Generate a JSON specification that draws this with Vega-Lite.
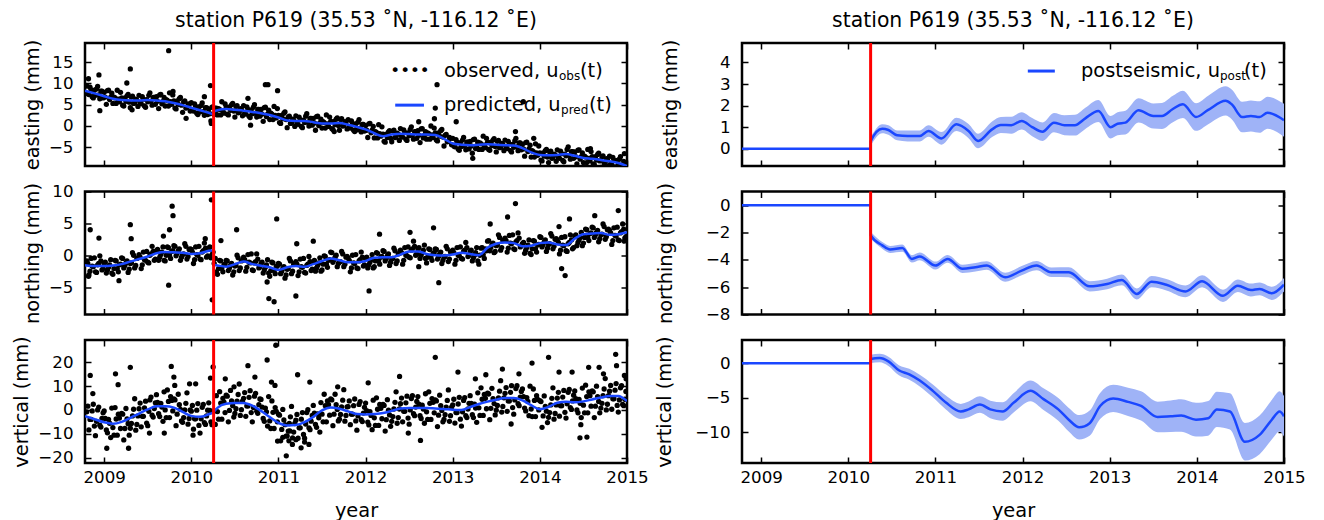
{
 "$schema": "https://vega.github.io/schema/vega-lite/v6.json",
 "background": "white",
 "padding": {"left": 10, "top": 9, "right": 0, "bottom": 0},
 "bounds": "flush",
 "columns": 2,
 "spacing": {"row": 25.5, "column": 115},
 "config": {
  "font": "DejaVu Sans",
  "view": {"stroke": "black", "strokeWidth": 2.5},
  "axis": {"grid": false, "domain": false, "ticks": true, "tickSize": -6, "tickWidth": 1.5, "tickColor": "black", "labelFont": "DejaVu Sans", "labelFontSize": 16.7, "labelColor": "black", "labelFlush": false, "titleFont": "DejaVu Sans", "titleFontSize": 19.4, "titleFontWeight": "normal", "titleColor": "black"},
  "axisX": {"labelPadding": 12, "titlePadding": 16},
  "axisY": {"labelPadding": 18, "titlePadding": 6},
  "title": {"font": "DejaVu Sans", "fontSize": 20.4, "fontWeight": "normal", "color": "black", "offset": 8, "baseline": "alphabetic", "frame": "group"}
 },
 "datasets": {
  "obs": [
   {"t":2008.8,"e":9.4,"n":-0.9,"v":-0.8},{"t":2008.825,"e":7.4,"n":-3.1,"v":-8.4},{"t":2008.85,"e":8.5,"n":-0.5,"v":-4.0},{"t":2008.875,"e":6.6,"n":-1.8,"v":2.4},
   {"t":2008.9,"e":7.2,"n":-2.6,"v":-10.8},{"t":2008.925,"e":9.3,"n":-1.5,"v":0.0},{"t":2008.95,"e":6.4,"n":-0.1,"v":-6.4},{"t":2008.975,"e":8.2,"n":-2.3,"v":-3.6},
   {"t":2009.0,"e":7.9,"n":-1.3,"v":-0.4},{"t":2009.025,"e":5.1,"n":-2.8,"v":-8.4},{"t":2009.05,"e":8.4,"n":-1.9,"v":-4.0},{"t":2009.075,"e":6.8,"n":-0.7,"v":-11.6},
   {"t":2009.1,"e":5.3,"n":-3.0,"v":-7.4},{"t":2009.125,"e":6.6,"n":-0.8,"v":1.0},{"t":2009.15,"e":8.4,"n":-2.1,"v":-10.6},{"t":2009.175,"e":5.7,"n":-1.5,"v":-3.4},
   {"t":2009.2,"e":6.6,"n":-0.4,"v":-1.4},{"t":2009.225,"e":4.7,"n":-2.0,"v":-12.6},{"t":2009.25,"e":5.8,"n":-1.2,"v":0.6},{"t":2009.275,"e":7.4,"n":-2.7,"v":-5.8},
   {"t":2009.3,"e":4.3,"n":-1.3,"v":-7.7},{"t":2009.325,"e":7.0,"n":0.4,"v":-2.5},{"t":2009.35,"e":5.4,"n":-2.0,"v":4.7},{"t":2009.375,"e":6.1,"n":-0.5,"v":-6.1},
   {"t":2009.4,"e":7.2,"n":0.1,"v":0.5},{"t":2009.425,"e":5.2,"n":-2.1,"v":-7.1},{"t":2009.45,"e":6.3,"n":0.5,"v":-2.7},{"t":2009.475,"e":4.4,"n":-0.8,"v":3.7},
   {"t":2009.5,"e":5.7,"n":-1.1,"v":-6.6},{"t":2009.525,"e":7.8,"n":0.0,"v":4.2},{"t":2009.55,"e":4.9,"n":1.4,"v":-2.2},{"t":2009.575,"e":6.7,"n":-0.8,"v":0.6},
   {"t":2009.6,"e":6.9,"n":0.7,"v":6.4},{"t":2009.625,"e":4.1,"n":-0.8,"v":-1.6},{"t":2009.65,"e":7.4,"n":0.1,"v":2.8},{"t":2009.675,"e":5.8,"n":1.3,"v":-4.8},
   {"t":2009.7,"e":4.7,"n":-0.9,"v":0.0},{"t":2009.725,"e":6.0,"n":1.3,"v":8.4},{"t":2009.75,"e":7.8,"n":0.0,"v":-3.2},{"t":2009.775,"e":5.1,"n":0.6,"v":4.0},
   {"t":2009.8,"e":5.9,"n":1.5,"v":4.6},{"t":2009.825,"e":4.0,"n":-0.1,"v":-6.6},{"t":2009.85,"e":5.1,"n":0.7,"v":6.6},{"t":2009.875,"e":6.7,"n":-0.8,"v":0.2},
   {"t":2009.9,"e":3.2,"n":0.1,"v":-5.2},{"t":2009.925,"e":5.9,"n":1.8,"v":0.0},{"t":2009.95,"e":4.3,"n":-0.6,"v":7.2},{"t":2009.975,"e":5.0,"n":0.9,"v":-3.6},
   {"t":2010.0,"e":5.5,"n":0.9,"v":-0.5},{"t":2010.025,"e":3.5,"n":-1.3,"v":-8.1},{"t":2010.05,"e":4.6,"n":1.3,"v":-3.7},{"t":2010.075,"e":2.7,"n":0.0,"v":2.7},
   {"t":2010.1,"e":3.3,"n":-0.6,"v":-9.7},{"t":2010.125,"e":5.4,"n":0.5,"v":1.1},{"t":2010.15,"e":2.5,"n":1.9,"v":-5.3},{"t":2010.175,"e":4.3,"n":-0.3,"v":-2.5},
   {"t":2010.2,"e":4.0,"n":1.1,"v":3.0},{"t":2010.225,"e":1.2,"n":-0.4,"v":-5.0},{"t":2010.25,"e":4.5,"n":0.5,"v":-0.6},{"t":2010.275,"e":3.4,"n":-0.5,"v":-6.1},
   {"t":2010.3,"e":2.6,"n":-3.0,"v":-0.7},{"t":2010.325,"e":3.9,"n":-0.8,"v":7.7},{"t":2010.35,"e":5.7,"n":-2.1,"v":-3.9},{"t":2010.375,"e":3.0,"n":-1.5,"v":3.3},
   {"t":2010.4,"e":4.5,"n":-0.8,"v":6.2},{"t":2010.425,"e":2.6,"n":-2.4,"v":-5.0},{"t":2010.45,"e":3.7,"n":-1.6,"v":8.2},{"t":2010.475,"e":5.3,"n":-3.1,"v":1.8},
   {"t":2010.5,"e":2.1,"n":-1.7,"v":-1.5},{"t":2010.525,"e":4.8,"n":0.0,"v":3.7},{"t":2010.55,"e":3.2,"n":-2.4,"v":10.9},{"t":2010.575,"e":3.9,"n":-0.9,"v":0.1},
   {"t":2010.6,"e":4.8,"n":-0.3,"v":4.9},{"t":2010.625,"e":2.8,"n":-2.5,"v":-2.7},{"t":2010.65,"e":3.9,"n":0.1,"v":1.7},{"t":2010.675,"e":2.0,"n":-1.2,"v":8.1},
   {"t":2010.7,"e":2.9,"n":-2.3,"v":-5.0},{"t":2010.725,"e":5.0,"n":-1.2,"v":5.8},{"t":2010.75,"e":2.1,"n":0.2,"v":-0.6},{"t":2010.775,"e":3.9,"n":-2.0,"v":2.2},
   {"t":2010.8,"e":3.9,"n":-1.3,"v":4.4},{"t":2010.825,"e":1.1,"n":-2.8,"v":-3.6},{"t":2010.85,"e":4.4,"n":-1.9,"v":0.8},{"t":2010.875,"e":2.8,"n":-0.7,"v":-6.8},
   {"t":2010.9,"e":1.5,"n":-3.3,"v":-4.6},{"t":2010.925,"e":2.8,"n":-1.1,"v":3.8},{"t":2010.95,"e":4.6,"n":-2.4,"v":-7.8},{"t":2010.975,"e":1.9,"n":-1.8,"v":-0.6},
   {"t":2011.0,"e":2.5,"n":-1.3,"v":-1.8},{"t":2011.025,"e":0.6,"n":-2.9,"v":-13.0},{"t":2011.05,"e":1.7,"n":-2.1,"v":0.2},{"t":2011.075,"e":3.3,"n":-3.6,"v":-6.2},
   {"t":2011.1,"e":-0.4,"n":-2.2,"v":-10.9},{"t":2011.125,"e":2.3,"n":-0.5,"v":-5.7},{"t":2011.15,"e":0.7,"n":-2.9,"v":1.5},{"t":2011.175,"e":1.4,"n":-1.4,"v":-9.3},
   {"t":2011.2,"e":2.4,"n":-1.0,"v":-4.3},{"t":2011.225,"e":0.4,"n":-3.2,"v":-11.9},{"t":2011.25,"e":1.5,"n":-0.6,"v":-7.5},{"t":2011.275,"e":-0.4,"n":-1.9,"v":-1.1},
   {"t":2011.3,"e":0.8,"n":-2.7,"v":-11.9},{"t":2011.325,"e":2.9,"n":-1.6,"v":-1.1},{"t":2011.35,"e":0.0,"n":-0.2,"v":-7.5},{"t":2011.375,"e":1.8,"n":-2.4,"v":-4.7},
   {"t":2011.4,"e":1.8,"n":-1.0,"v":1.9},{"t":2011.425,"e":-1.0,"n":-2.5,"v":-6.1},{"t":2011.45,"e":2.3,"n":-1.6,"v":-1.7},{"t":2011.475,"e":0.7,"n":-0.4,"v":-9.3},
   {"t":2011.5,"e":-0.5,"n":-2.3,"v":-1.8},{"t":2011.525,"e":0.8,"n":-0.1,"v":6.6},{"t":2011.55,"e":2.6,"n":-1.4,"v":-5.0},{"t":2011.575,"e":-0.1,"n":-0.8,"v":2.2},
   {"t":2011.6,"e":1.1,"n":0.5,"v":4.6},{"t":2011.625,"e":-0.8,"n":-1.1,"v":-6.6},{"t":2011.65,"e":0.3,"n":-0.3,"v":6.6},{"t":2011.675,"e":1.9,"n":-1.8,"v":0.2},
   {"t":2011.7,"e":-1.0,"n":-1.1,"v":-3.9},{"t":2011.725,"e":1.7,"n":0.6,"v":1.3},{"t":2011.75,"e":0.1,"n":-1.8,"v":8.5},{"t":2011.775,"e":0.8,"n":-0.3,"v":-2.3},
   {"t":2011.8,"e":1.5,"n":-0.4,"v":1.4},{"t":2011.825,"e":-0.5,"n":-2.6,"v":-6.2},{"t":2011.85,"e":0.6,"n":0.0,"v":-1.8},{"t":2011.875,"e":-1.3,"n":-1.3,"v":4.6},
   {"t":2011.9,"e":-0.6,"n":-2.0,"v":-8.5},{"t":2011.925,"e":1.5,"n":-0.9,"v":2.3},{"t":2011.95,"e":-1.4,"n":0.5,"v":-4.1},{"t":2011.975,"e":0.4,"n":-1.7,"v":-1.3},
   {"t":2012.0,"e":0.1,"n":-0.5,"v":2.9},{"t":2012.025,"e":-2.7,"n":-2.0,"v":-5.1},{"t":2012.05,"e":0.6,"n":-1.1,"v":-0.7},{"t":2012.075,"e":-1.0,"n":0.1,"v":-8.3},
   {"t":2012.1,"e":-2.8,"n":-1.8,"v":-3.3},{"t":2012.125,"e":-1.5,"n":0.4,"v":5.1},{"t":2012.15,"e":0.3,"n":-0.9,"v":-6.5},{"t":2012.175,"e":-2.4,"n":-0.3,"v":0.7},
   {"t":2012.2,"e":-1.9,"n":0.7,"v":2.3},{"t":2012.225,"e":-3.8,"n":-0.9,"v":-8.9},{"t":2012.25,"e":-2.7,"n":-0.1,"v":4.3},{"t":2012.275,"e":-1.1,"n":-1.6,"v":-2.1},
   {"t":2012.3,"e":-3.7,"n":-0.6,"v":-4.8},{"t":2012.325,"e":-1.0,"n":1.1,"v":0.4},{"t":2012.35,"e":-2.6,"n":-1.3,"v":7.6},{"t":2012.375,"e":-1.9,"n":0.2,"v":-3.2},
   {"t":2012.4,"e":-0.6,"n":0.8,"v":2.6},{"t":2012.425,"e":-2.6,"n":-1.4,"v":-5.0},{"t":2012.45,"e":-1.5,"n":1.2,"v":-0.6},{"t":2012.475,"e":-3.4,"n":-0.1,"v":5.8},
   {"t":2012.5,"e":-2.3,"n":-0.3,"v":-6.0},{"t":2012.525,"e":-0.2,"n":0.8,"v":4.8},{"t":2012.55,"e":-3.1,"n":2.2,"v":-1.6},{"t":2012.575,"e":-1.3,"n":0.0,"v":1.2},
   {"t":2012.6,"e":-1.1,"n":1.0,"v":5.6},{"t":2012.625,"e":-3.9,"n":-0.5,"v":-2.4},{"t":2012.65,"e":-0.6,"n":0.4,"v":2.0},{"t":2012.675,"e":-2.2,"n":1.6,"v":-5.6},
   {"t":2012.7,"e":-3.1,"n":-1.2,"v":-0.8},{"t":2012.725,"e":-1.8,"n":1.0,"v":7.6},{"t":2012.75,"e":0.0,"n":-0.3,"v":-4.0},{"t":2012.775,"e":-2.7,"n":0.3,"v":3.2},
   {"t":2012.8,"e":-1.6,"n":1.0,"v":4.2},{"t":2012.825,"e":-3.5,"n":-0.6,"v":-7.0},{"t":2012.85,"e":-2.4,"n":0.2,"v":6.2},{"t":2012.875,"e":-0.8,"n":-1.3,"v":-0.2},
   {"t":2012.9,"e":-4.7,"n":-0.3,"v":-4.0},{"t":2012.925,"e":-2.0,"n":1.4,"v":1.2},{"t":2012.95,"e":-3.6,"n":-1.0,"v":8.4},{"t":2012.975,"e":-2.9,"n":0.5,"v":-2.4},
   {"t":2013.0,"e":-2.9,"n":0.8,"v":2.1},{"t":2013.025,"e":-4.9,"n":-1.4,"v":-5.5},{"t":2013.05,"e":-3.8,"n":1.2,"v":-1.1},{"t":2013.075,"e":-5.7,"n":-0.1,"v":5.3},
   {"t":2013.1,"e":-4.8,"n":-0.5,"v":-6.8},{"t":2013.125,"e":-2.7,"n":0.6,"v":4.0},{"t":2013.15,"e":-5.6,"n":2.0,"v":-2.4},{"t":2013.175,"e":-3.8,"n":-0.2,"v":0.4},
   {"t":2013.2,"e":-3.6,"n":0.6,"v":6.0},{"t":2013.225,"e":-6.4,"n":-0.9,"v":-2.0},{"t":2013.25,"e":-3.1,"n":0.0,"v":2.4},{"t":2013.275,"e":-4.7,"n":1.2,"v":-5.2},
   {"t":2013.3,"e":-5.5,"n":-1.4,"v":0.9},{"t":2013.325,"e":-4.2,"n":1.1,"v":9.3},{"t":2013.35,"e":-2.4,"n":0.1,"v":-2.3},{"t":2013.375,"e":-5.1,"n":1.0,"v":4.9},
   {"t":2013.4,"e":-3.8,"n":2.2,"v":7.1},{"t":2013.425,"e":-5.7,"n":0.7,"v":-4.1},{"t":2013.45,"e":-4.6,"n":1.7,"v":9.1},{"t":2013.475,"e":-3.0,"n":0.4,"v":2.7},
   {"t":2013.5,"e":-6.1,"n":1.5,"v":-0.1},{"t":2013.525,"e":-3.4,"n":3.2,"v":5.1},{"t":2013.55,"e":-5.0,"n":0.8,"v":12.3},{"t":2013.575,"e":-4.3,"n":2.3,"v":1.5},
   {"t":2013.6,"e":-3.3,"n":2.7,"v":7.0},{"t":2013.625,"e":-5.3,"n":0.5,"v":-0.6},{"t":2013.65,"e":-4.2,"n":3.1,"v":3.8},{"t":2013.675,"e":-6.1,"n":1.8,"v":10.2},
   {"t":2013.7,"e":-5.0,"n":1.0,"v":-1.8},{"t":2013.725,"e":-2.9,"n":2.1,"v":9.0},{"t":2013.75,"e":-5.8,"n":3.5,"v":2.6},{"t":2013.775,"e":-4.0,"n":1.3,"v":5.4},
   {"t":2013.8,"e":-4.3,"n":1.8,"v":8.8},{"t":2013.825,"e":-7.1,"n":0.3,"v":0.8},{"t":2013.85,"e":-3.8,"n":1.2,"v":5.2},{"t":2013.875,"e":-5.4,"n":2.4,"v":-2.4},
   {"t":2013.9,"e":-7.3,"n":0.1,"v":0.4},{"t":2013.925,"e":-6.0,"n":2.3,"v":8.8},{"t":2013.95,"e":-4.2,"n":1.0,"v":-2.8},{"t":2013.975,"e":-6.9,"n":1.6,"v":4.4},
   {"t":2014.0,"e":-6.3,"n":2.9,"v":3.9},{"t":2014.025,"e":-8.2,"n":1.3,"v":-7.3},{"t":2014.05,"e":-7.1,"n":2.1,"v":5.9},{"t":2014.075,"e":-5.5,"n":0.6,"v":-0.5},
   {"t":2014.1,"e":-8.6,"n":1.7,"v":-3.1},{"t":2014.125,"e":-5.9,"n":3.4,"v":2.1},{"t":2014.15,"e":-7.5,"n":1.0,"v":9.3},{"t":2014.175,"e":-6.8,"n":2.5,"v":-1.5},
   {"t":2014.2,"e":-5.6,"n":2.4,"v":5.0},{"t":2014.225,"e":-7.6,"n":0.2,"v":-2.6},{"t":2014.25,"e":-6.5,"n":2.8,"v":1.8},{"t":2014.275,"e":-8.4,"n":1.5,"v":8.2},
   {"t":2014.3,"e":-7.0,"n":0.7,"v":-3.4},{"t":2014.325,"e":-4.9,"n":1.8,"v":7.4},{"t":2014.35,"e":-7.8,"n":3.2,"v":1.0},{"t":2014.375,"e":-6.0,"n":1.0,"v":3.8},
   {"t":2014.4,"e":-6.1,"n":3.0,"v":8.0},{"t":2014.425,"e":-8.9,"n":1.5,"v":0.0},{"t":2014.45,"e":-5.6,"n":2.4,"v":4.4},{"t":2014.475,"e":-7.2,"n":3.6,"v":-3.2},
   {"t":2014.5,"e":-8.6,"n":1.9,"v":2.0},{"t":2014.525,"e":-7.3,"n":4.1,"v":10.4},{"t":2014.55,"e":-5.5,"n":2.8,"v":-1.2},{"t":2014.575,"e":-8.2,"n":3.4,"v":6.0},
   {"t":2014.6,"e":-7.2,"n":4.4,"v":8.0},{"t":2014.625,"e":-9.1,"n":2.8,"v":-3.2},{"t":2014.65,"e":-8.0,"n":3.6,"v":10.0},{"t":2014.675,"e":-6.4,"n":2.1,"v":3.6},
   {"t":2014.7,"e":-9.7,"n":3.2,"v":0.8},{"t":2014.725,"e":-7.0,"n":4.9,"v":6.0},{"t":2014.75,"e":-8.6,"n":2.5,"v":13.2},{"t":2014.775,"e":-7.9,"n":4.0,"v":2.4},
   {"t":2014.8,"e":-7.1,"n":3.9,"v":7.9},{"t":2014.825,"e":-9.1,"n":1.7,"v":0.3},{"t":2014.85,"e":-8.0,"n":4.3,"v":4.7},{"t":2014.875,"e":-9.9,"n":3.0,"v":11.1},
   {"t":2014.9,"e":-9.1,"n":2.4,"v":-0.9},{"t":2014.925,"e":-7.2,"n":3.5,"v":9.3},{"t":2014.95,"e":-10.3,"n":4.9,"v":2.3},{"t":2014.975,"e":-8.7,"n":2.7,"v":4.5},
   {"t":2008.8125,"e":7.6,"n":-1.3,"v":1.6},{"t":2008.8375,"e":9.1,"n":-2.5,"v":-4.0},{"t":2008.8625,"e":6.9,"n":-1.7,"v":-0.4},{"t":2008.8875,"e":8.4,"n":-0.4,"v":-6.8},
   {"t":2008.9125,"e":8.7,"n":-2.7,"v":-4.8},{"t":2008.9375,"e":7.3,"n":-1.3,"v":1.2},{"t":2008.9625,"e":8.2,"n":-0.9,"v":-7.2},{"t":2008.9875,"e":6.6,"n":-2.1,"v":-1.2},
   {"t":2009.0125,"e":6.8,"n":-1.1,"v":-3.6},{"t":2009.0375,"e":8.3,"n":-2.3,"v":-9.6},{"t":2009.0625,"e":6.2,"n":-1.5,"v":-5.6},{"t":2009.0875,"e":7.7,"n":-2.8,"v":0.8},
   {"t":2009.1125,"e":6.8,"n":-2.1,"v":-10.6},{"t":2009.1375,"e":5.3,"n":-0.9,"v":-3.8},{"t":2009.1625,"e":6.3,"n":-2.6,"v":-1.8},{"t":2009.1875,"e":7.9,"n":-1.4,"v":-7.8},
   {"t":2009.2125,"e":4.9,"n":-0.5,"v":-1.8},{"t":2009.2375,"e":6.6,"n":-1.6,"v":-7.8},{"t":2009.2625,"e":7.1,"n":-0.9,"v":-3.8},{"t":2009.2875,"e":5.6,"n":-2.2,"v":-10.6},
   {"t":2009.3125,"e":6.8,"n":-1.2,"v":-5.7},{"t":2009.3375,"e":5.3,"n":0.0,"v":0.3},{"t":2009.3625,"e":6.3,"n":-1.6,"v":-8.5},{"t":2009.3875,"e":4.6,"n":-0.4,"v":-2.5},
   {"t":2009.4125,"e":5.4,"n":-0.3,"v":2.9},{"t":2009.4375,"e":6.9,"n":-1.5,"v":-2.7},{"t":2009.4625,"e":4.7,"n":-0.7,"v":0.9},{"t":2009.4875,"e":6.2,"n":0.6,"v":-5.5},
   {"t":2009.5125,"e":7.2,"n":-1.2,"v":-0.6},{"t":2009.5375,"e":5.8,"n":0.2,"v":5.4},{"t":2009.5625,"e":6.7,"n":0.6,"v":-3.0},{"t":2009.5875,"e":5.1,"n":-0.6,"v":3.0},
   {"t":2009.6125,"e":5.8,"n":0.9,"v":3.2},{"t":2009.6375,"e":7.3,"n":-0.3,"v":-2.8},{"t":2009.6625,"e":5.2,"n":0.5,"v":1.2},{"t":2009.6875,"e":6.7,"n":-0.8,"v":7.6},
   {"t":2009.7125,"e":6.2,"n":0.0,"v":-3.2},{"t":2009.7375,"e":4.7,"n":1.2,"v":3.6},{"t":2009.7625,"e":5.7,"n":-0.5,"v":5.6},{"t":2009.7875,"e":7.3,"n":0.7,"v":-0.4},
   {"t":2009.8125,"e":4.2,"n":1.4,"v":4.2},{"t":2009.8375,"e":5.9,"n":0.3,"v":-1.8},{"t":2009.8625,"e":6.4,"n":1.0,"v":2.2},{"t":2009.8875,"e":4.9,"n":-0.3,"v":-4.6},
   {"t":2009.9125,"e":5.7,"n":0.2,"v":-3.2},{"t":2009.9375,"e":4.2,"n":1.4,"v":2.8},{"t":2009.9625,"e":5.2,"n":-0.2,"v":-6.0},{"t":2009.9875,"e":3.5,"n":1.0,"v":0.0},
   {"t":2010.0125,"e":3.7,"n":0.5,"v":1.9},{"t":2010.0375,"e":5.2,"n":-0.7,"v":-3.7},{"t":2010.0625,"e":3.0,"n":0.1,"v":-0.1},{"t":2010.0875,"e":4.5,"n":1.4,"v":-6.5},
   {"t":2010.1125,"e":4.8,"n":-0.7,"v":-3.7},{"t":2010.1375,"e":3.4,"n":0.7,"v":2.3},{"t":2010.1625,"e":4.3,"n":1.1,"v":-6.1},{"t":2010.1875,"e":2.7,"n":-0.1,"v":-0.1},
   {"t":2010.2125,"e":2.9,"n":1.3,"v":-0.2},{"t":2010.2375,"e":4.4,"n":0.1,"v":-6.2},{"t":2010.2625,"e":2.7,"n":-1.3,"v":-0.4},{"t":2010.2875,"e":4.2,"n":-2.6,"v":6.0},
   {"t":2010.3125,"e":4.1,"n":-2.1,"v":-3.9},{"t":2010.3375,"e":2.6,"n":-0.9,"v":2.9},{"t":2010.3625,"e":3.6,"n":-2.6,"v":4.9},{"t":2010.3875,"e":5.2,"n":-1.4,"v":-1.1},
   {"t":2010.4125,"e":2.8,"n":-0.9,"v":5.8},{"t":2010.4375,"e":4.5,"n":-2.0,"v":-0.2},{"t":2010.4625,"e":5.0,"n":-1.3,"v":3.8},{"t":2010.4875,"e":3.5,"n":-2.6,"v":-3.0},
   {"t":2010.5125,"e":4.6,"n":-1.6,"v":0.5},{"t":2010.5375,"e":3.1,"n":-0.4,"v":6.5},{"t":2010.5625,"e":4.1,"n":-2.0,"v":-2.3},{"t":2010.5875,"e":2.4,"n":-0.8,"v":3.7},
   {"t":2010.6125,"e":3.0,"n":-0.7,"v":7.3},{"t":2010.6375,"e":4.5,"n":-1.9,"v":1.7},{"t":2010.6625,"e":2.3,"n":-1.1,"v":5.3},{"t":2010.6875,"e":3.8,"n":0.2,"v":-1.1},
   {"t":2010.7125,"e":4.4,"n":-2.4,"v":1.0},{"t":2010.7375,"e":3.0,"n":-1.0,"v":7.0},{"t":2010.7625,"e":3.9,"n":-0.6,"v":-1.4},{"t":2010.7875,"e":2.3,"n":-1.8,"v":4.6},
   {"t":2010.8125,"e":2.8,"n":-1.1,"v":1.2},{"t":2010.8375,"e":4.3,"n":-2.3,"v":-4.8},{"t":2010.8625,"e":2.2,"n":-1.5,"v":-0.8},{"t":2010.8875,"e":3.7,"n":-2.8,"v":5.6},
   {"t":2010.9125,"e":3.0,"n":-2.4,"v":-7.8},{"t":2010.9375,"e":1.5,"n":-1.2,"v":-1.0},{"t":2010.9625,"e":2.5,"n":-2.9,"v":1.0},{"t":2010.9875,"e":4.1,"n":-1.7,"v":-5.0},
   {"t":2011.0125,"e":0.8,"n":-1.4,"v":-2.2},{"t":2011.0375,"e":2.5,"n":-2.5,"v":-8.2},{"t":2011.0625,"e":3.0,"n":-1.8,"v":-4.2},{"t":2011.0875,"e":1.5,"n":-3.1,"v":-11.0},
   {"t":2011.1125,"e":2.1,"n":-2.1,"v":-8.9},{"t":2011.1375,"e":0.6,"n":-0.9,"v":-2.9},{"t":2011.1625,"e":1.6,"n":-2.5,"v":-11.7},{"t":2011.1875,"e":-0.1,"n":-1.3,"v":-5.7},
   {"t":2011.2125,"e":0.6,"n":-1.4,"v":-1.9},{"t":2011.2375,"e":2.1,"n":-2.6,"v":-7.5},{"t":2011.2625,"e":-0.1,"n":-1.8,"v":-3.9},{"t":2011.2875,"e":1.4,"n":-0.5,"v":-10.3},
   {"t":2011.3125,"e":2.3,"n":-2.8,"v":-5.9},{"t":2011.3375,"e":0.9,"n":-1.4,"v":0.1},{"t":2011.3625,"e":1.8,"n":-1.0,"v":-8.3},{"t":2011.3875,"e":0.2,"n":-2.2,"v":-2.3},
   {"t":2011.4125,"e":0.7,"n":-0.8,"v":-1.3},{"t":2011.4375,"e":2.2,"n":-2.0,"v":-7.3},{"t":2011.4625,"e":0.1,"n":-1.2,"v":-3.3},{"t":2011.4875,"e":1.6,"n":-2.5,"v":3.1},
   {"t":2011.5125,"e":1.0,"n":-1.4,"v":-5.0},{"t":2011.5375,"e":-0.5,"n":-0.2,"v":1.8},{"t":2011.5625,"e":0.5,"n":-1.9,"v":3.8},{"t":2011.5875,"e":2.1,"n":-0.7,"v":-2.2},
   {"t":2011.6125,"e":-0.6,"n":0.4,"v":4.2},{"t":2011.6375,"e":1.1,"n":-0.7,"v":-1.8},{"t":2011.6625,"e":1.6,"n":0.0,"v":2.2},{"t":2011.6875,"e":0.1,"n":-1.3,"v":-4.6},
   {"t":2011.7125,"e":1.5,"n":-1.0,"v":-1.9},{"t":2011.7375,"e":0.0,"n":0.2,"v":4.1},{"t":2011.7625,"e":1.0,"n":-1.4,"v":-4.7},{"t":2011.7875,"e":-0.7,"n":-0.2,"v":1.3},
   {"t":2011.8125,"e":-0.3,"n":-0.8,"v":3.8},{"t":2011.8375,"e":1.2,"n":-2.0,"v":-1.8},{"t":2011.8625,"e":-1.0,"n":-1.2,"v":1.8},{"t":2011.8875,"e":0.5,"n":0.1,"v":-4.6},
   {"t":2011.9125,"e":0.9,"n":-2.1,"v":-2.5},{"t":2011.9375,"e":-0.5,"n":-0.7,"v":3.5},{"t":2011.9625,"e":0.4,"n":-0.3,"v":-4.9},{"t":2011.9875,"e":-1.2,"n":-1.5,"v":1.1},
   {"t":2012.0125,"e":-1.0,"n":-0.3,"v":-0.3},{"t":2012.0375,"e":0.5,"n":-1.5,"v":-6.3},{"t":2012.0625,"e":-1.6,"n":-0.7,"v":-2.3},{"t":2012.0875,"e":-0.1,"n":-2.0,"v":4.1},
   {"t":2012.1125,"e":-1.3,"n":-0.9,"v":-6.5},{"t":2012.1375,"e":-2.8,"n":0.3,"v":0.3},{"t":2012.1625,"e":-1.8,"n":-1.4,"v":2.3},{"t":2012.1875,"e":-0.2,"n":-0.2,"v":-3.7},
   {"t":2012.2125,"e":-3.6,"n":0.6,"v":1.9},{"t":2012.2375,"e":-1.9,"n":-0.5,"v":-4.1},{"t":2012.2625,"e":-1.4,"n":0.2,"v":-0.1},{"t":2012.2875,"e":-2.9,"n":-1.1,"v":-6.9},
   {"t":2012.3125,"e":-1.2,"n":-0.5,"v":-2.8},{"t":2012.3375,"e":-2.7,"n":0.7,"v":3.2},{"t":2012.3625,"e":-1.7,"n":-0.9,"v":-5.6},{"t":2012.3875,"e":-3.4,"n":0.3,"v":0.4},
   {"t":2012.4125,"e":-2.4,"n":0.4,"v":5.0},{"t":2012.4375,"e":-0.9,"n":-0.8,"v":-0.6},{"t":2012.4625,"e":-3.1,"n":0.0,"v":3.0},{"t":2012.4875,"e":-1.6,"n":1.3,"v":-3.4},
   {"t":2012.5125,"e":-0.8,"n":-0.4,"v":0.0},{"t":2012.5375,"e":-2.2,"n":1.0,"v":6.0},{"t":2012.5625,"e":-1.3,"n":1.4,"v":-2.4},{"t":2012.5875,"e":-2.9,"n":0.2,"v":3.6},
   {"t":2012.6125,"e":-2.2,"n":1.2,"v":2.4},{"t":2012.6375,"e":-0.7,"n":0.0,"v":-3.6},{"t":2012.6625,"e":-2.8,"n":0.8,"v":0.4},{"t":2012.6875,"e":-1.3,"n":-0.5,"v":6.8},
   {"t":2012.7125,"e":-1.6,"n":-0.3,"v":-4.0},{"t":2012.7375,"e":-3.1,"n":0.9,"v":2.8},{"t":2012.7625,"e":-2.1,"n":-0.8,"v":4.8},{"t":2012.7875,"e":-0.5,"n":0.4,"v":-1.2},
   {"t":2012.8125,"e":-3.3,"n":0.9,"v":3.8},{"t":2012.8375,"e":-1.6,"n":-0.2,"v":-2.2},{"t":2012.8625,"e":-1.1,"n":0.5,"v":1.8},{"t":2012.8875,"e":-2.6,"n":-0.8,"v":-5.0},
   {"t":2012.9125,"e":-2.2,"n":-0.2,"v":-2.0},{"t":2012.9375,"e":-3.7,"n":1.0,"v":4.0},{"t":2012.9625,"e":-2.7,"n":-0.6,"v":-4.8},{"t":2012.9875,"e":-4.4,"n":0.6,"v":1.2},
   {"t":2013.0125,"e":-4.7,"n":0.4,"v":4.5},{"t":2013.0375,"e":-3.2,"n":-0.8,"v":-1.1},{"t":2013.0625,"e":-5.4,"n":0.0,"v":2.5},{"t":2013.0875,"e":-3.9,"n":1.3,"v":-3.9},
   {"t":2013.1125,"e":-3.3,"n":-0.6,"v":-0.8},{"t":2013.1375,"e":-4.7,"n":0.8,"v":5.2},{"t":2013.1625,"e":-3.8,"n":1.2,"v":-3.2},{"t":2013.1875,"e":-5.4,"n":0.0,"v":2.8},
   {"t":2013.2125,"e":-4.7,"n":0.8,"v":2.8},{"t":2013.2375,"e":-3.2,"n":-0.4,"v":-3.2},{"t":2013.2625,"e":-5.3,"n":0.4,"v":0.8},{"t":2013.2875,"e":-3.8,"n":-0.9,"v":7.2},
   {"t":2013.3125,"e":-4.0,"n":0.0,"v":-2.3},{"t":2013.3375,"e":-5.5,"n":1.2,"v":4.5},{"t":2013.3625,"e":-4.5,"n":-0.5,"v":6.5},{"t":2013.3875,"e":-2.9,"n":0.7,"v":0.5},
   {"t":2013.4125,"e":-5.5,"n":2.3,"v":6.7},{"t":2013.4375,"e":-3.8,"n":1.2,"v":0.7},{"t":2013.4625,"e":-3.3,"n":1.9,"v":4.7},{"t":2013.4875,"e":-4.8,"n":0.6,"v":-2.1},
   {"t":2013.5125,"e":-3.6,"n":1.6,"v":1.9},{"t":2013.5375,"e":-5.1,"n":2.8,"v":7.9},{"t":2013.5625,"e":-4.1,"n":1.2,"v":-0.9},{"t":2013.5875,"e":-5.8,"n":2.4,"v":5.1},
   {"t":2013.6125,"e":-5.1,"n":2.3,"v":9.4},{"t":2013.6375,"e":-3.6,"n":1.1,"v":3.8},{"t":2013.6625,"e":-5.8,"n":1.9,"v":7.4},{"t":2013.6875,"e":-4.3,"n":3.2,"v":1.0},
   {"t":2013.7125,"e":-3.5,"n":0.9,"v":4.2},{"t":2013.7375,"e":-4.9,"n":2.3,"v":10.2},{"t":2013.7625,"e":-4.0,"n":2.7,"v":1.8},{"t":2013.7875,"e":-5.6,"n":1.5,"v":7.8},
   {"t":2013.8125,"e":-5.4,"n":2.0,"v":5.6},{"t":2013.8375,"e":-3.9,"n":0.8,"v":-0.4},{"t":2013.8625,"e":-6.0,"n":1.6,"v":3.6},{"t":2013.8875,"e":-4.5,"n":0.3,"v":10.0},
   {"t":2013.9125,"e":-5.8,"n":1.0,"v":-2.8},{"t":2013.9375,"e":-7.3,"n":2.2,"v":4.0},{"t":2013.9625,"e":-6.3,"n":0.5,"v":6.0},{"t":2013.9875,"e":-4.7,"n":1.7,"v":0.0},
   {"t":2014.0125,"e":-8.0,"n":2.8,"v":3.5},{"t":2014.0375,"e":-6.3,"n":1.7,"v":-2.5},{"t":2014.0625,"e":-5.8,"n":2.4,"v":1.5},{"t":2014.0875,"e":-7.3,"n":1.1,"v":-5.3},
   {"t":2014.1125,"e":-6.1,"n":1.8,"v":-1.1},{"t":2014.1375,"e":-7.6,"n":3.0,"v":4.9},{"t":2014.1625,"e":-6.6,"n":1.4,"v":-3.9},{"t":2014.1875,"e":-8.3,"n":2.6,"v":2.1},
   {"t":2014.2125,"e":-7.4,"n":2.0,"v":7.4},{"t":2014.2375,"e":-5.9,"n":0.8,"v":1.8},{"t":2014.2625,"e":-8.1,"n":1.6,"v":5.4},{"t":2014.2875,"e":-6.6,"n":2.9,"v":-1.0},
   {"t":2014.3125,"e":-5.5,"n":0.6,"v":2.6},{"t":2014.3375,"e":-6.9,"n":2.0,"v":8.6},{"t":2014.3625,"e":-6.0,"n":2.4,"v":0.2},{"t":2014.3875,"e":-7.6,"n":1.2,"v":6.2},
   {"t":2014.4125,"e":-7.2,"n":3.2,"v":4.8},{"t":2014.4375,"e":-5.7,"n":2.0,"v":-1.2},{"t":2014.4625,"e":-7.8,"n":2.8,"v":2.8},{"t":2014.4875,"e":-6.3,"n":1.5,"v":9.2},
   {"t":2014.5125,"e":-7.1,"n":2.8,"v":-1.2},{"t":2014.5375,"e":-8.6,"n":4.0,"v":5.6},{"t":2014.5625,"e":-7.6,"n":2.3,"v":7.6},{"t":2014.5875,"e":-6.0,"n":3.5,"v":1.6},
   {"t":2014.6125,"e":-8.9,"n":4.3,"v":7.6},{"t":2014.6375,"e":-7.2,"n":3.2,"v":1.6},{"t":2014.6625,"e":-6.7,"n":3.9,"v":5.6},{"t":2014.6875,"e":-8.2,"n":2.6,"v":-1.2},
   {"t":2014.7125,"e":-7.2,"n":3.3,"v":2.8},{"t":2014.7375,"e":-8.7,"n":4.5,"v":8.8},{"t":2014.7625,"e":-7.7,"n":2.9,"v":0.0},{"t":2014.7875,"e":-9.4,"n":4.1,"v":6.0},
   {"t":2014.8125,"e":-8.9,"n":3.5,"v":10.3},{"t":2014.8375,"e":-7.4,"n":2.3,"v":4.7},{"t":2014.8625,"e":-9.6,"n":3.1,"v":8.3},{"t":2014.8875,"e":-8.1,"n":4.4,"v":1.9},
   {"t":2014.9125,"e":-7.8,"n":2.3,"v":4.2},{"t":2014.9375,"e":-9.2,"n":3.7,"v":10.2},{"t":2014.9625,"e":-8.3,"n":4.1,"v":1.8},{"t":2014.9875,"e":-9.9,"n":2.9,"v":7.8},
   {"t":2008.82,"e":11.1},{"t":2008.94,"e":12.0},{"t":2008.95,"e":3.6},{"t":2009.3,"e":13.4},{"t":2009.26,"e":10.1},{"t":2009.32,"e":3.8},{"t":2009.74,"e":17.7},{"t":2009.79,"e":8.1},{"t":2009.94,"e":1.8},{"t":2010.15,"e":6.9},{"t":2010.22,"e":9.5},{"t":2010.23,"e":0.6},{"t":2010.65,"e":6.5},{"t":2010.68,"e":0.2},{"t":2010.85,"e":9.7},{"t":2010.88,"e":9.7},{"t":2010.99,"e":8.3},{"t":2011.64,"e":-1.3},{"t":2011.91,"e":-0.9},{"t":2012.61,"e":1.0},{"t":2012.8,"e":4.2},{"t":2012.82,"e":9.7},{"t":2012.79,"e":1.7},{"t":2013.04,"e":1.0},{"t":2013.23,"e":-7.6},{"t":2013.72,"e":-1.3},{"t":2013.93,"e":-2.9},{"t":2013.81,"e":5.7},{"t":2014.97,"e":-6.5},{"t":2014.58,"e":-5.3},
   {"t":2008.84,"n":4.0},{"t":2008.94,"n":2.7},{"t":2008.82,"n":-3.3},{"t":2009.17,"n":-4.0},{"t":2009.3,"n":4.8},{"t":2009.31,"n":2.6},{"t":2009.78,"n":7.7},{"t":2009.79,"n":6.2},{"t":2009.75,"n":4.0},{"t":2009.74,"n":-4.7},{"t":2009.68,"n":3.0},{"t":2010.16,"n":2.6},{"t":2010.23,"n":8.7},{"t":2010.24,"n":-7.0},{"t":2010.52,"n":4.0},{"t":2010.34,"n":2.3},{"t":2010.87,"n":-4.2},{"t":2010.89,"n":-6.8},{"t":2010.95,"n":-7.3},{"t":2010.98,"n":5.7},{"t":2011.2,"n":-6.4},{"t":2011.21,"n":1.8},{"t":2011.4,"n":2.2},{"t":2012.04,"n":-5.6},{"t":2012.16,"n":3.3},{"t":2012.51,"n":3.6},{"t":2012.78,"n":4.3},{"t":2012.84,"n":-4.3},{"t":2012.61,"n":-1.8},{"t":2013.43,"n":4.9},{"t":2013.63,"n":6.0},{"t":2013.72,"n":8.1},{"t":2014.22,"n":4.5},{"t":2014.29,"n":-3.2},{"t":2014.25,"n":-2.1},{"t":2014.34,"n":5.7},{"t":2014.63,"n":6.2},{"t":2014.9,"n":7.0},{"t":2014.97,"n":2.2},
   {"t":2008.84,"v":14.5},{"t":2008.87,"v":6.9},{"t":2009.03,"v":-16.1},{"t":2009.13,"v":15.2},{"t":2009.16,"v":10.6},{"t":2009.28,"v":-16.1},{"t":2009.3,"v":17.9},{"t":2009.52,"v":-9.7},{"t":2009.69,"v":-9.7},{"t":2009.77,"v":18.3},{"t":2009.8,"v":13.8},{"t":2009.81,"v":10.3},{"t":2009.98,"v":11.0},{"t":2010.05,"v":11.0},{"t":2010.02,"v":-10.6},{"t":2010.22,"v":13.4},{"t":2010.25,"v":18.1},{"t":2010.39,"v":13.1},{"t":2010.49,"v":9.7},{"t":2010.65,"v":18.6},{"t":2010.73,"v":13.8},{"t":2010.87,"v":21.0},{"t":2010.97,"v":27.2},{"t":2010.92,"v":11.7},{"t":2010.96,"v":10.3},{"t":2010.99,"v":-13.1},{"t":2011.09,"v":-19.3},{"t":2011.16,"v":-14.5},{"t":2011.26,"v":-15.9},{"t":2011.35,"v":-14.5},{"t":2011.22,"v":14.8},{"t":2011.36,"v":11.7},{"t":2011.68,"v":9.7},{"t":2012.03,"v":11.4},{"t":2012.39,"v":14.1},{"t":2012.49,"v":-9.7},{"t":2012.63,"v":-12.8},{"t":2012.8,"v":22.1},{"t":2013.06,"v":15.9},{"t":2013.26,"v":13.1},{"t":2013.38,"v":14.8},{"t":2013.67,"v":-5.9},{"t":2013.57,"v":17.2},{"t":2013.91,"v":19.7},{"t":2013.76,"v":15.2},{"t":2014.1,"v":22.1},{"t":2014.22,"v":15.9},{"t":2014.37,"v":15.9},{"t":2014.46,"v":-11.7},{"t":2014.54,"v":-11.4},{"t":2014.56,"v":17.9},{"t":2014.68,"v":17.9},{"t":2014.87,"v":23.4},{"t":2014.88,"v":18.6},{"t":2014.73,"v":15.2},{"t":2014.97,"v":14.5},{"t":2014.99,"v":13.1},{"t":2014.47,"v":-6.2},{"t":2011.05,"v":-11.5},{"t":2011.12,"v":-13.0},{"t":2011.2,"v":-12.5},{"t":2011.3,"v":-13.5},{"t":2011.13,"v":-8.8}
  ],
  "pred": [
   {"t":2008.78,"e":8.3,"n":-1.56,"v":-2.6},{"t":2008.9,"e":7.6,"n":-1.7,"v":-4.0},{"t":2009.0,"e":7.0,"n":-1.7,"v":-5.2},{"t":2009.1,"e":6.4,"n":-1.6,"v":-5.8},{"t":2009.2,"e":6.1,"n":-1.4,"v":-5.0},{"t":2009.3,"e":6.0,"n":-1.0,"v":-3.3},{"t":2009.4,"e":6.0,"n":-0.6,"v":-1.5},{"t":2009.5,"e":6.1,"n":-0.2,"v":0.2},{"t":2009.6,"e":6.0,"n":0.3,"v":1.6},{"t":2009.7,"e":5.8,"n":0.5,"v":1.6},{"t":2009.8,"e":5.4,"n":0.45,"v":1.0},{"t":2009.9,"e":4.9,"n":0.4,"v":-0.8},{"t":2010.0,"e":4.3,"n":0.2,"v":-2.5},{"t":2010.1,"e":3.7,"n":0.3,"v":-2.9},{"t":2010.2,"e":3.1,"n":0.7,"v":-1.8},{"t":2010.255,"e":2.8,"n":0.8,"v":-1.0},{"t":2010.257,"e":3.4,"n":-1.5,"v":-0.9},{"t":2010.3,"e":3.7,"n":-1.6,"v":0.9},{"t":2010.4,"e":4.0,"n":-1.8,"v":2.6},{"t":2010.5,"e":3.8,"n":-1.4,"v":2.9},{"t":2010.6,"e":3.6,"n":-1.0,"v":2.9},{"t":2010.7,"e":3.3,"n":-1.4,"v":1.8},{"t":2010.8,"e":3.0,"n":-1.65,"v":-0.4},{"t":2010.9,"e":2.6,"n":-1.9,"v":-3.0},{"t":2011.0,"e":2.0,"n":-2.3,"v":-5.4},{"t":2011.1,"e":1.3,"n":-1.9,"v":-6.5},{"t":2011.2,"e":1.2,"n":-1.7,"v":-6.3},{"t":2011.3,"e":1.2,"n":-1.8,"v":-5.1},{"t":2011.4,"e":0.9,"n":-1.4,"v":-2.9},{"t":2011.5,"e":0.6,"n":-0.9,"v":-0.2},{"t":2011.6,"e":0.6,"n":-0.5,"v":1.0},{"t":2011.7,"e":0.7,"n":-0.8,"v":0.5},{"t":2011.8,"e":0.3,"n":-1.1,"v":-0.6},{"t":2011.9,"e":-0.2,"n":-1.1,"v":-1.7},{"t":2012.0,"e":-0.8,"n":-0.9,"v":-1.9},{"t":2012.1,"e":-1.7,"n":-0.4,"v":-1.7},{"t":2012.2,"e":-2.4,"n":-0.3,"v":-1.3},{"t":2012.3,"e":-2.0,"n":-0.3,"v":-0.4},{"t":2012.4,"e":-1.8,"n":0.1,"v":0.6},{"t":2012.5,"e":-1.9,"n":0.6,"v":0.8},{"t":2012.6,"e":-2.0,"n":0.6,"v":0.8},{"t":2012.7,"e":-2.0,"n":0.2,"v":0.8},{"t":2012.8,"e":-2.1,"n":0.0,"v":0.6},{"t":2012.9,"e":-3.0,"n":-0.05,"v":0.4},{"t":2013.0,"e":-4.1,"n":0.1,"v":0.1},{"t":2013.1,"e":-4.4,"n":0.4,"v":0.0},{"t":2013.2,"e":-4.5,"n":0.2,"v":1.2},{"t":2013.3,"e":-4.4,"n":0.0,"v":2.5},{"t":2013.4,"e":-4.3,"n":1.2,"v":3.5},{"t":2013.5,"e":-4.4,"n":1.8,"v":4.3},{"t":2013.6,"e":-4.5,"n":2.0,"v":5.0},{"t":2013.7,"e":-4.6,"n":1.9,"v":5.0},{"t":2013.8,"e":-5.2,"n":1.4,"v":4.0},{"t":2013.9,"e":-6.2,"n":1.5,"v":2.0},{"t":2014.0,"e":-6.8,"n":1.9,"v":0.3},{"t":2014.1,"e":-6.9,"n":2.0,"v":1.3},{"t":2014.2,"e":-6.8,"n":1.7,"v":3.0},{"t":2014.3,"e":-6.6,"n":1.6,"v":3.4},{"t":2014.4,"e":-7.0,"n":2.6,"v":3.2},{"t":2014.5,"e":-7.5,"n":3.3,"v":3.6},{"t":2014.6,"e":-7.7,"n":3.4,"v":4.4},{"t":2014.7,"e":-8.0,"n":3.5,"v":5.2},{"t":2014.8,"e":-8.3,"n":3.2,"v":5.9},{"t":2014.9,"e":-8.7,"n":3.3,"v":5.9},{"t":2015.0,"e":-9.4,"n":3.6,"v":3.7}
  ],
  "pe": [
   {"t":2008.78,"y":0},{"t":2010.256,"y":0},
   {"t":2010.257,"y":0.35,"lo":0.15,"hi":0.55},{"t":2010.39,"y":0.93,"lo":0.72,"hi":1.14},{"t":2010.46,"y":0.87,"lo":0.65,"hi":1.09},{"t":2010.56,"y":0.62,"lo":0.39,"hi":0.85},{"t":2010.68,"y":0.59,"lo":0.34,"hi":0.84},{"t":2010.82,"y":0.59,"lo":0.33,"hi":0.85},{"t":2010.92,"y":0.82,"lo":0.55,"hi":1.09},{"t":2011.07,"y":0.48,"lo":0.19,"hi":0.77},{"t":2011.24,"y":1.13,"lo":0.82,"hi":1.44},{"t":2011.38,"y":0.82,"lo":0.49,"hi":1.15},{"t":2011.49,"y":0.36,"lo":0.02,"hi":0.7},{"t":2011.65,"y":0.9,"lo":0.54,"hi":1.26},{"t":2011.75,"y":1.1,"lo":0.73,"hi":1.47},{"t":2011.87,"y":1.09,"lo":0.7,"hi":1.48},{"t":2011.99,"y":1.29,"lo":0.89,"hi":1.69},{"t":2012.11,"y":1.0,"lo":0.58,"hi":1.42},{"t":2012.23,"y":0.79,"lo":0.36,"hi":1.22},{"t":2012.36,"y":1.21,"lo":0.76,"hi":1.66},{"t":2012.48,"y":1.09,"lo":0.63,"hi":1.55},{"t":2012.6,"y":1.09,"lo":0.61,"hi":1.57},{"t":2012.72,"y":1.41,"lo":0.92,"hi":1.9},{"t":2012.87,"y":1.75,"lo":1.24,"hi":2.26},{"t":2013.01,"y":1.0,"lo":0.48,"hi":1.52},{"t":2013.09,"y":1.16,"lo":0.63,"hi":1.69},{"t":2013.18,"y":1.21,"lo":0.66,"hi":1.76},{"t":2013.33,"y":1.78,"lo":1.22,"hi":2.34},{"t":2013.5,"y":1.52,"lo":0.94,"hi":2.1},{"t":2013.6,"y":1.52,"lo":0.92,"hi":2.12},{"t":2013.72,"y":1.83,"lo":1.22,"hi":2.44},{"t":2013.84,"y":2.06,"lo":1.43,"hi":2.69},{"t":2013.99,"y":1.47,"lo":0.83,"hi":2.11},{"t":2014.13,"y":1.8,"lo":1.14,"hi":2.46},{"t":2014.33,"y":2.22,"lo":1.54,"hi":2.9},{"t":2014.4,"y":2.06,"lo":1.37,"hi":2.75},{"t":2014.52,"y":1.47,"lo":0.76,"hi":2.18},{"t":2014.62,"y":1.52,"lo":0.8,"hi":2.24},{"t":2014.72,"y":1.47,"lo":0.74,"hi":2.2},{"t":2014.81,"y":1.67,"lo":0.93,"hi":2.41},{"t":2015.0,"y":1.32,"lo":0.56,"hi":2.08}
  ],
  "pn": [
   {"t":2008.78,"y":0},{"t":2010.256,"y":0},
   {"t":2010.257,"y":-2.21,"lo":-2.46,"hi":-1.96},{"t":2010.39,"y":-2.94,"lo":-3.19,"hi":-2.69},{"t":2010.48,"y":-3.24,"lo":-3.5,"hi":-2.98},{"t":2010.62,"y":-3.14,"lo":-3.41,"hi":-2.87},{"t":2010.73,"y":-3.93,"lo":-4.2,"hi":-3.66},{"t":2010.82,"y":-3.75,"lo":-4.03,"hi":-3.47},{"t":2011.0,"y":-4.42,"lo":-4.71,"hi":-4.13},{"t":2011.14,"y":-3.93,"lo":-4.22,"hi":-3.64},{"t":2011.31,"y":-4.66,"lo":-4.96,"hi":-4.36},{"t":2011.46,"y":-4.54,"lo":-4.85,"hi":-4.23},{"t":2011.59,"y":-4.42,"lo":-4.73,"hi":-4.11},{"t":2011.8,"y":-5.28,"lo":-5.61,"hi":-4.95},{"t":2011.99,"y":-4.79,"lo":-5.12,"hi":-4.46},{"t":2012.16,"y":-4.42,"lo":-4.76,"hi":-4.08},{"t":2012.33,"y":-4.91,"lo":-5.26,"hi":-4.56},{"t":2012.53,"y":-4.91,"lo":-5.27,"hi":-4.55},{"t":2012.77,"y":-5.94,"lo":-6.31,"hi":-5.57},{"t":2012.97,"y":-5.77,"lo":-6.15,"hi":-5.39},{"t":2013.14,"y":-5.47,"lo":-5.86,"hi":-5.08},{"t":2013.31,"y":-6.5,"lo":-6.9,"hi":-6.1},{"t":2013.48,"y":-5.6,"lo":-6.01,"hi":-5.19},{"t":2013.65,"y":-5.82,"lo":-6.24,"hi":-5.4},{"t":2013.87,"y":-6.31,"lo":-6.74,"hi":-5.88},{"t":2014.06,"y":-5.57,"lo":-6.01,"hi":-5.13},{"t":2014.3,"y":-6.63,"lo":-7.08,"hi":-6.18},{"t":2014.47,"y":-5.89,"lo":-6.35,"hi":-5.43},{"t":2014.62,"y":-6.21,"lo":-6.68,"hi":-5.74},{"t":2014.72,"y":-6.13,"lo":-6.6,"hi":-5.66},{"t":2014.86,"y":-6.45,"lo":-6.93,"hi":-5.97},{"t":2015.0,"y":-5.82,"lo":-6.31,"hi":-5.33}
  ],
  "pv": [
   {"t":2008.78,"y":0},{"t":2010.256,"y":0},
   {"t":2010.257,"y":0.64,"lo":0.04,"hi":1.24},{"t":2010.36,"y":0.78,"lo":0.15,"hi":1.41},{"t":2010.46,"y":0.3,"lo":-0.38,"hi":0.98},{"t":2010.58,"y":-1.0,"lo":-1.74,"hi":-0.26},{"t":2010.7,"y":-1.6,"lo":-2.4,"hi":-0.8},{"t":2010.82,"y":-2.5,"lo":-3.36,"hi":-1.64},{"t":2010.97,"y":-4.0,"lo":-4.94,"hi":-3.06},{"t":2011.12,"y":-5.7,"lo":-6.71,"hi":-4.69},{"t":2011.29,"y":-7.0,"lo":-8.1,"hi":-5.9},{"t":2011.38,"y":-6.7,"lo":-7.84,"hi":-5.56},{"t":2011.51,"y":-6.0,"lo":-7.2,"hi":-4.8},{"t":2011.63,"y":-6.7,"lo":-7.97,"hi":-5.43},{"t":2011.77,"y":-7.0,"lo":-8.34,"hi":-5.66},{"t":2011.9,"y":-5.7,"lo":-7.1,"hi":-4.3},{"t":2012.09,"y":-4.0,"lo":-5.5,"hi":-2.5},{"t":2012.24,"y":-5.2,"lo":-6.77,"hi":-3.63},{"t":2012.41,"y":-6.7,"lo":-8.36,"hi":-5.04},{"t":2012.53,"y":-8.2,"lo":-9.92,"hi":-6.48},{"t":2012.65,"y":-9.3,"lo":-11.08,"hi":-7.52},{"t":2012.77,"y":-8.7,"lo":-10.54,"hi":-6.86},{"t":2012.89,"y":-6.2,"lo":-8.1,"hi":-4.3},{"t":2013.04,"y":-5.1,"lo":-7.07,"hi":-3.13},{"t":2013.21,"y":-5.6,"lo":-7.66,"hi":-3.54},{"t":2013.36,"y":-6.2,"lo":-8.33,"hi":-4.07},{"t":2013.55,"y":-7.8,"lo":-10.03,"hi":-5.57},{"t":2013.7,"y":-7.7,"lo":-10.0,"hi":-5.4},{"t":2013.82,"y":-7.6,"lo":-9.96,"hi":-5.24},{"t":2013.99,"y":-8.2,"lo":-10.65,"hi":-5.75},{"t":2014.13,"y":-8.0,"lo":-10.52,"hi":-5.48},{"t":2014.23,"y":-6.7,"lo":-9.27,"hi":-4.13},{"t":2014.38,"y":-7.0,"lo":-9.64,"hi":-4.36},{"t":2014.55,"y":-11.4,"lo":-14.13,"hi":-8.67},{"t":2014.72,"y":-10.4,"lo":-13.21,"hi":-7.59},{"t":2014.86,"y":-8.2,"lo":-11.08,"hi":-5.32},{"t":2014.95,"y":-7.0,"lo":-9.93,"hi":-4.07},{"t":2015.0,"y":-7.7,"lo":-10.65,"hi":-4.75}
  ]
 },
 "concat": [
  {
   "width": 542, "height": 123,
   "title": "station P619 (35.53 ˚N, -116.12 ˚E)",
   "layer": [
    {"data": {"name": "obs"}, "mark": {"type": "point", "filled": true, "size": 28, "color": "black", "opacity": 1, "clip": true},
     "encoding": {
      "x": {"field": "t", "type": "quantitative", "scale": {"domain": [2008.78, 2015], "nice": false, "zero": false}, "axis": {"orient": "bottom", "values": [2009,2010,2011,2012,2013,2014,2015], "labels": false, "title": null}},
      "y": {"field": "e", "type": "quantitative", "scale": {"domain": [-9.4, 19.5], "nice": false, "zero": false}, "axis": {"orient": "left", "values": [-5,0,5,10,15], "title": "easting (mm)"}}}},
    {"data": {"name": "pred"}, "mark": {"type": "line", "color": "#1a47ff", "strokeWidth": 2.5, "clip": true, "interpolate": "monotone"},
     "encoding": {
      "x": {"field": "t", "type": "quantitative", "axis": {"orient": "top", "values": [2009,2010,2011,2012,2013,2014,2015], "labels": false, "title": null}},
      "y": {"field": "e", "type": "quantitative", "axis": {"orient": "right", "values": [-5,0,5,10,15], "labels": false, "title": null}}}},
    {"data": {"values": [{}]}, "mark": {"type": "rule", "color": "#ff0000", "strokeWidth": 3}, "encoding": {"x": {"datum": 2010.256, "type": "quantitative", "axis": null}}},
    {"data": {"values": [{}]}, "mark": {"type": "text", "text": "••••", "align": "center", "baseline": "middle", "fontSize": 16.7, "color": "black"}, "encoding": {"x": {"datum": 2012.51, "type": "quantitative", "axis": null}, "y": {"datum": 12.9, "type": "quantitative", "axis": null}}},
    {"data": {"values": [{}]}, "mark": {"type": "rule", "color": "#1a47ff", "strokeWidth": 3}, "encoding": {"x": {"datum": 2012.34, "type": "quantitative", "axis": null}, "x2": {"datum": 2012.67}, "y": {"datum": 4.9, "type": "quantitative", "axis": null}}},
    {"data": {"values": [{}]}, "mark": {"type": "text", "text": "observed, u", "align": "left", "baseline": "middle", "fontSize": 19.4, "color": "black"}, "encoding": {"x": {"datum": 2012.9, "type": "quantitative", "axis": null}, "y": {"datum": 12.9, "type": "quantitative", "axis": null}}},
    {"data": {"values": [{}]}, "mark": {"type": "text", "text": "obs", "align": "left", "baseline": "middle", "fontSize": 12, "dx": 115, "dy": 5, "color": "black"}, "encoding": {"x": {"datum": 2012.9, "type": "quantitative", "axis": null}, "y": {"datum": 12.9, "type": "quantitative", "axis": null}}},
    {"data": {"values": [{}]}, "mark": {"type": "text", "text": "(t)", "align": "left", "baseline": "middle", "fontSize": 19.4, "dx": 136, "color": "black"}, "encoding": {"x": {"datum": 2012.9, "type": "quantitative", "axis": null}, "y": {"datum": 12.9, "type": "quantitative", "axis": null}}},
    {"data": {"values": [{}]}, "mark": {"type": "text", "text": "predicted, u", "align": "left", "baseline": "middle", "fontSize": 19.4, "color": "black"}, "encoding": {"x": {"datum": 2012.9, "type": "quantitative", "axis": null}, "y": {"datum": 4.9, "type": "quantitative", "axis": null}}},
    {"data": {"values": [{}]}, "mark": {"type": "text", "text": "pred", "align": "left", "baseline": "middle", "fontSize": 12, "dx": 117, "dy": 5, "color": "black"}, "encoding": {"x": {"datum": 2012.9, "type": "quantitative", "axis": null}, "y": {"datum": 4.9, "type": "quantitative", "axis": null}}},
    {"data": {"values": [{}]}, "mark": {"type": "text", "text": "(t)", "align": "left", "baseline": "middle", "fontSize": 19.4, "dx": 145, "color": "black"}, "encoding": {"x": {"datum": 2012.9, "type": "quantitative", "axis": null}, "y": {"datum": 4.9, "type": "quantitative", "axis": null}}}
   ],
   "resolve": {"axis": {"x": "independent", "y": "independent"}}
  },
  {
   "width": 542, "height": 123,
   "title": "station P619 (35.53 ˚N, -116.12 ˚E)",
   "layer": [
    {"data": {"name": "pe"}, "mark": {"type": "area", "color": "#9fb3f7", "opacity": 1, "clip": true, "interpolate": "monotone"},
     "encoding": {
      "x": {"field": "t", "type": "quantitative", "scale": {"domain": [2008.78, 2015], "nice": false, "zero": false}, "axis": {"orient": "bottom", "values": [2009,2010,2011,2012,2013,2014,2015], "labels": false, "title": null}},
      "y": {"field": "lo", "type": "quantitative", "scale": {"domain": [-0.8, 4.9], "nice": false, "zero": false}, "axis": {"orient": "left", "values": [0,1,2,3,4], "title": "easting (mm)", "titlePadding": 39}},
      "y2": {"field": "hi"}}},
    {"data": {"name": "pe"}, "mark": {"type": "line", "color": "#1a47ff", "strokeWidth": 2.5, "clip": true, "interpolate": "monotone"},
     "encoding": {
      "x": {"field": "t", "type": "quantitative", "axis": {"orient": "top", "values": [2009,2010,2011,2012,2013,2014,2015], "labels": false, "title": null}},
      "y": {"field": "y", "type": "quantitative", "axis": {"orient": "right", "values": [0,1,2,3,4], "labels": false, "title": null}}}},
    {"data": {"values": [{}]}, "mark": {"type": "rule", "color": "#ff0000", "strokeWidth": 3}, "encoding": {"x": {"datum": 2010.256, "type": "quantitative", "axis": null}}},
    {"data": {"values": [{}]}, "mark": {"type": "rule", "color": "#1a47ff", "strokeWidth": 3}, "encoding": {"x": {"datum": 2012.06, "type": "quantitative", "axis": null}, "x2": {"datum": 2012.37}, "y": {"datum": 3.6, "type": "quantitative", "axis": null}}},
    {"data": {"values": [{}]}, "mark": {"type": "text", "text": "postseismic, u", "align": "left", "baseline": "middle", "fontSize": 19.4, "color": "black"}, "encoding": {"x": {"datum": 2012.67, "type": "quantitative", "axis": null}, "y": {"datum": 3.6, "type": "quantitative", "axis": null}}},
    {"data": {"values": [{}]}, "mark": {"type": "text", "text": "post", "align": "left", "baseline": "middle", "fontSize": 12, "dx": 139, "dy": 5, "color": "black"}, "encoding": {"x": {"datum": 2012.67, "type": "quantitative", "axis": null}, "y": {"datum": 3.6, "type": "quantitative", "axis": null}}},
    {"data": {"values": [{}]}, "mark": {"type": "text", "text": "(t)", "align": "left", "baseline": "middle", "fontSize": 19.4, "dx": 163, "color": "black"}, "encoding": {"x": {"datum": 2012.67, "type": "quantitative", "axis": null}, "y": {"datum": 3.6, "type": "quantitative", "axis": null}}}
   ],
   "resolve": {"axis": {"x": "independent", "y": "independent"}}
  },
  {
   "width": 542, "height": 123,
   "layer": [
    {"data": {"name": "obs"}, "mark": {"type": "point", "filled": true, "size": 28, "color": "black", "opacity": 1, "clip": true},
     "encoding": {
      "x": {"field": "t", "type": "quantitative", "scale": {"domain": [2008.78, 2015], "nice": false, "zero": false}, "axis": {"orient": "bottom", "values": [2009,2010,2011,2012,2013,2014,2015], "labels": false, "title": null}},
      "y": {"field": "n", "type": "quantitative", "scale": {"domain": [-9.3, 10], "nice": false, "zero": false}, "axis": {"orient": "left", "values": [-5,0,5,10], "title": "northing (mm)"}}}},
    {"data": {"name": "pred"}, "mark": {"type": "line", "color": "#1a47ff", "strokeWidth": 2.5, "clip": true, "interpolate": "monotone"},
     "encoding": {
      "x": {"field": "t", "type": "quantitative", "axis": {"orient": "top", "values": [2009,2010,2011,2012,2013,2014,2015], "labels": false, "title": null}},
      "y": {"field": "n", "type": "quantitative", "axis": {"orient": "right", "values": [-5,0,5,10], "labels": false, "title": null}}}},
    {"data": {"values": [{}]}, "mark": {"type": "rule", "color": "#ff0000", "strokeWidth": 3}, "encoding": {"x": {"datum": 2010.256, "type": "quantitative", "axis": null}}}
   ],
   "resolve": {"axis": {"x": "independent", "y": "independent"}}
  },
  {
   "width": 542, "height": 123,
   "layer": [
    {"data": {"name": "pn"}, "mark": {"type": "area", "color": "#9fb3f7", "opacity": 1, "clip": true, "interpolate": "monotone"},
     "encoding": {
      "x": {"field": "t", "type": "quantitative", "scale": {"domain": [2008.78, 2015], "nice": false, "zero": false}, "axis": {"orient": "bottom", "values": [2009,2010,2011,2012,2013,2014,2015], "labels": false, "title": null}},
      "y": {"field": "lo", "type": "quantitative", "scale": {"domain": [-8, 1], "nice": false, "zero": false}, "axis": {"orient": "left", "values": [-8,-6,-4,-2,0], "title": "northing (mm)", "titlePadding": 30}},
      "y2": {"field": "hi"}}},
    {"data": {"name": "pn"}, "mark": {"type": "line", "color": "#1a47ff", "strokeWidth": 2.5, "clip": true, "interpolate": "monotone"},
     "encoding": {
      "x": {"field": "t", "type": "quantitative", "axis": {"orient": "top", "values": [2009,2010,2011,2012,2013,2014,2015], "labels": false, "title": null}},
      "y": {"field": "y", "type": "quantitative", "axis": {"orient": "right", "values": [-8,-6,-4,-2,0], "labels": false, "title": null}}}},
    {"data": {"values": [{}]}, "mark": {"type": "rule", "color": "#ff0000", "strokeWidth": 3}, "encoding": {"x": {"datum": 2010.256, "type": "quantitative", "axis": null}}}
   ],
   "resolve": {"axis": {"x": "independent", "y": "independent"}}
  },
  {
   "width": 542, "height": 123,
   "layer": [
    {"data": {"name": "obs"}, "mark": {"type": "point", "filled": true, "size": 28, "color": "black", "opacity": 1, "clip": true},
     "encoding": {
      "x": {"field": "t", "type": "quantitative", "scale": {"domain": [2008.78, 2015], "nice": false, "zero": false}, "axis": {"orient": "bottom", "values": [2009,2010,2011,2012,2013,2014,2015], "format": "d", "title": "year"}},
      "y": {"field": "v", "type": "quantitative", "scale": {"domain": [-22.3, 29.4], "nice": false, "zero": false}, "axis": {"orient": "left", "values": [-20,-10,0,10,20], "title": "vertical (mm)"}}}},
    {"data": {"name": "pred"}, "mark": {"type": "line", "color": "#1a47ff", "strokeWidth": 2.5, "clip": true, "interpolate": "monotone"},
     "encoding": {
      "x": {"field": "t", "type": "quantitative", "axis": {"orient": "top", "values": [2009,2010,2011,2012,2013,2014,2015], "labels": false, "title": null}},
      "y": {"field": "v", "type": "quantitative", "axis": {"orient": "right", "values": [-20,-10,0,10,20], "labels": false, "title": null}}}},
    {"data": {"values": [{}]}, "mark": {"type": "rule", "color": "#ff0000", "strokeWidth": 3}, "encoding": {"x": {"datum": 2010.256, "type": "quantitative", "axis": null}}}
   ],
   "resolve": {"axis": {"x": "independent", "y": "independent"}}
  },
  {
   "width": 542, "height": 123,
   "layer": [
    {"data": {"name": "pv"}, "mark": {"type": "area", "color": "#9fb3f7", "opacity": 1, "clip": true, "interpolate": "monotone"},
     "encoding": {
      "x": {"field": "t", "type": "quantitative", "scale": {"domain": [2008.78, 2015], "nice": false, "zero": false}, "axis": {"orient": "bottom", "values": [2009,2010,2011,2012,2013,2014,2015], "format": "d", "title": "year"}},
      "y": {"field": "lo", "type": "quantitative", "scale": {"domain": [-14.5, 3.4], "nice": false, "zero": false}, "axis": {"orient": "left", "values": [-10,-5,0], "title": "vertical (mm)", "titlePadding": 20}},
      "y2": {"field": "hi"}}},
    {"data": {"name": "pv"}, "mark": {"type": "line", "color": "#1a47ff", "strokeWidth": 2.5, "clip": true, "interpolate": "monotone"},
     "encoding": {
      "x": {"field": "t", "type": "quantitative", "axis": {"orient": "top", "values": [2009,2010,2011,2012,2013,2014,2015], "labels": false, "title": null}},
      "y": {"field": "y", "type": "quantitative", "axis": {"orient": "right", "values": [-10,-5,0], "labels": false, "title": null}}}},
    {"data": {"values": [{}]}, "mark": {"type": "rule", "color": "#ff0000", "strokeWidth": 3}, "encoding": {"x": {"datum": 2010.256, "type": "quantitative", "axis": null}}}
   ],
   "resolve": {"axis": {"x": "independent", "y": "independent"}}
  }
 ]
}
